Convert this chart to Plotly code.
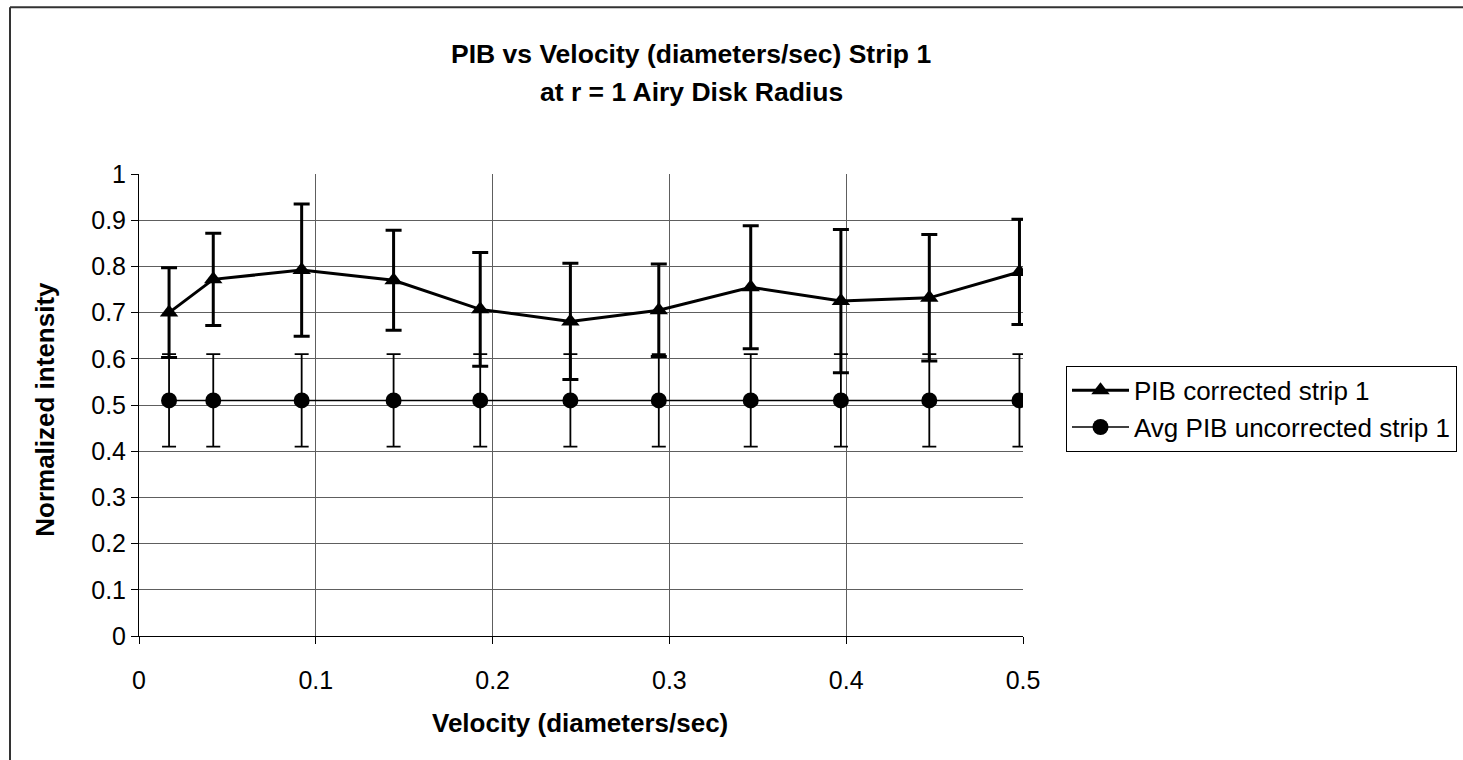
import plotly.graph_objects as go

# Values
velocity = [0.017, 0.042, 0.092, 0.144, 0.193, 0.244, 0.294, 0.346, 0.397, 0.447, 0.498]
pib_corrected = [0.700, 0.772, 0.792, 0.770, 0.707, 0.681, 0.705, 0.755, 0.725, 0.732, 0.788]
corrected_err = [0.097, 0.100, 0.143, 0.108, 0.123, 0.126, 0.100, 0.133, 0.155, 0.137, 0.114]
pib_uncorrected = [0.51, 0.51, 0.51, 0.51, 0.51, 0.51, 0.51, 0.51, 0.51, 0.51, 0.51]
uncorrected_err = [0.10, 0.10, 0.10, 0.10, 0.10, 0.10, 0.10, 0.10, 0.10, 0.10, 0.10]

x_ticks = [0, 0.1, 0.2, 0.3, 0.4, 0.5]
x_tick_labels = ["0", "0.1", "0.2", "0.3", "0.4", "0.5"]
y_ticks = [0, 0.1, 0.2, 0.3, 0.4, 0.5, 0.6, 0.7, 0.8, 0.9, 1]
y_tick_labels = ["0", "0.1", "0.2", "0.3", "0.4", "0.5", "0.6", "0.7", "0.8", "0.9", "1"]

FONT = "Liberation Sans, Arial, sans-serif"

# plot area in screen pixels (body margin is removed below)
W, H = 1463, 760
left, right, top, bottom = 139, 1023, 174, 636.5
pw, ph = right - left, bottom - top


# screen pixel -> paper coordinate
def px(x):
    return (x - left) / pw


def py(y):
    return (bottom - y) / ph


fig = go.Figure()

fig.add_trace(
    go.Scatter(
        x=velocity,
        y=pib_uncorrected,
        mode='lines+markers',
        name="Avg PIB uncorrected strip 1",
        line=dict(color='black', width=1.5),
        marker=dict(symbol='circle', size=16, color='black'),
        error_y=dict(type='data', array=uncorrected_err, color='black', thickness=1.8, width=7),
    )
)

fig.add_trace(
    go.Scatter(
        x=velocity,
        y=pib_corrected,
        mode='lines+markers',
        name="PIB corrected strip 1",
        line=dict(color='black', width=3),
        marker=dict(symbol='triangle-up', size=16, color='black'),
        error_y=dict(type='data', array=corrected_err, color='black', thickness=3, width=8),
    )
)

fig.update_layout(
    width=W,
    height=H,
    margin=dict(l=left, r=W - right, t=top, b=H - bottom, autoexpand=False),
    paper_bgcolor='white',
    plot_bgcolor='white',
    font=dict(family=FONT, color='black', size=25),
    showlegend=True,
    legend=dict(
        x=px(1066), y=py(366), xanchor='left', yanchor='top',
        traceorder='reversed',
        bordercolor='black', borderwidth=1,
        font=dict(size=26, family=FONT),
        itemwidth=57,
        tracegroupgap=0,
    ),
    xaxis=dict(
        range=[0, 0.5], tickvals=x_ticks, ticktext=x_tick_labels,
        showgrid=True, gridcolor='#5e5e5e', gridwidth=1,
        showline=True, linecolor='black', linewidth=1,
        ticks='outside', ticklen=7, tickcolor='black',
        ticklabelstandoff=15,
        zeroline=False,
        tickfont=dict(size=25),
    ),
    yaxis=dict(
        range=[0, 1], tickvals=y_ticks, ticktext=y_tick_labels,
        showgrid=True, gridcolor='#5e5e5e', gridwidth=1,
        showline=True, linecolor='black', linewidth=1,
        ticks='outside', ticklen=7, tickcolor='black',
        zeroline=False,
        tickfont=dict(size=25),
    ),
    annotations=[
        dict(text="<b>PIB vs Velocity (diameters/sec) Strip 1</b>", xref='paper', yref='paper',
             x=px(691), y=py(54), showarrow=False, font=dict(size=26.5, family=FONT),
             xanchor='center', yanchor='middle'),
        dict(text="<b>at r = 1 Airy Disk Radius</b>", xref='paper', yref='paper',
             x=px(691), y=py(92), showarrow=False, font=dict(size=26.5, family=FONT),
             xanchor='center', yanchor='middle'),
        dict(text="<b>Velocity (diameters/sec)</b>", xref='paper', yref='paper',
             x=px(580), y=py(724), showarrow=False, font=dict(size=26, family=FONT),
             xanchor='center', yanchor='middle'),
        dict(text="<b>Normalized intensity</b>", xref='paper', yref='paper',
             x=px(45), y=py(410), showarrow=False, font=dict(size=26, family=FONT),
             xanchor='center', yanchor='middle', textangle=-90),
    ],
    # outer chart frame: only its left and top edges fall inside the picture
    shapes=[
        dict(type='line', xref='paper', yref='paper',
             x0=px(10), x1=px(1500), y0=py(7), y1=py(7),
             line=dict(color='#333333', width=2)),
        dict(type='line', xref='paper', yref='paper',
             x0=px(10), x1=px(10), y0=py(800), y1=py(7),
             line=dict(color='#333333', width=2)),
    ],
)

fig.write_html(
    "out.html",
    config={'displayModeBar': False},
    post_script="document.body.style.margin='0px'; document.body.style.overflow='hidden';",
)
